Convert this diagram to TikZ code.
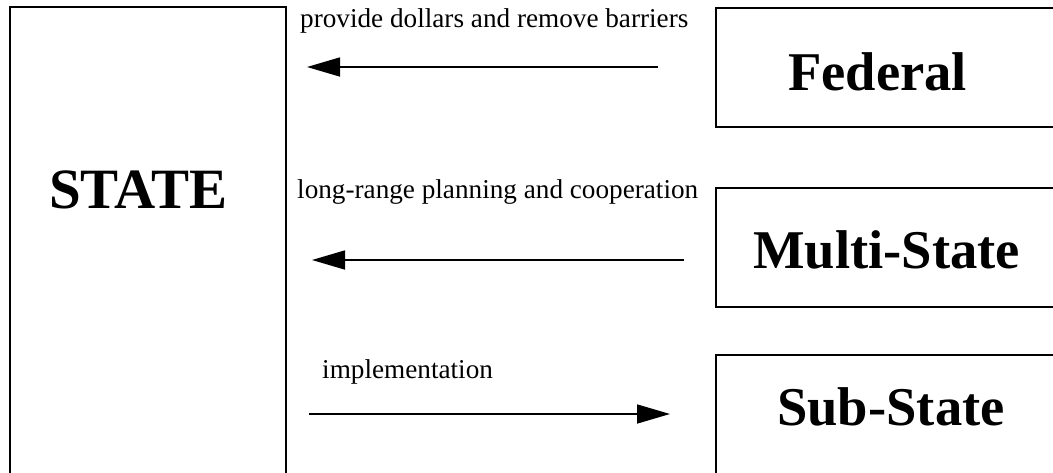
\documentclass[tikz,border=0pt]{standalone}
\usepackage{fontspec}
\setmainfont{Liberation Serif}
\usetikzlibrary{arrows.meta}
\begin{document}
\begin{tikzpicture}[x=1pt,y=-1pt,
  box/.style={draw,line width=1.5pt},
  big/.style={anchor=base west,inner sep=0pt,font=\fontsize{54.6}{60}\selectfont\bfseries},
  small/.style={anchor=base west,inner sep=0pt,font=\fontsize{27.2}{32}\selectfont},
  flow/.style={line width=1.6pt,-{Triangle[length=33pt,width=19pt]}}]
\useasboundingbox (0,0) rectangle (1053,472);
\clip (0,0) rectangle (1053,472);
\draw[box] (10,7) rectangle (286,490);
\draw[box] (716,8) rectangle (1070,127);
\draw[box] (716,188) rectangle (1070,307);
\draw[box] (716,355) rectangle (1070,490);
\node[big,font=\fontsize{57}{62}\selectfont\bfseries] (state) at (49,208) {STATE};
\node[big] (federal) at (788,90) {Federal};
\node[big] (multi) at (753,268) {Multi-State};
\node[big] (sub) at (777,425) {Sub-State};
\node[small] (l1) at (300,27) {provide dollars and remove barriers};
\node[small] (l2) at (297,198) {long-range planning and cooperation};
\node[small] (l3) at (322,378) {implementation};
\coordinate (a1s) at (658,67);
\coordinate (a1e) at (307,67);
\coordinate (a2s) at (684,260);
\coordinate (a2e) at (312,260);
\coordinate (a3s) at (309,414);
\coordinate (a3e) at (670,414);
\draw[flow] (a1s) -- (a1e);
\draw[flow] (a2s) -- (a2e);
\draw[flow] (a3s) -- (a3e);
\end{tikzpicture}
\end{document}
